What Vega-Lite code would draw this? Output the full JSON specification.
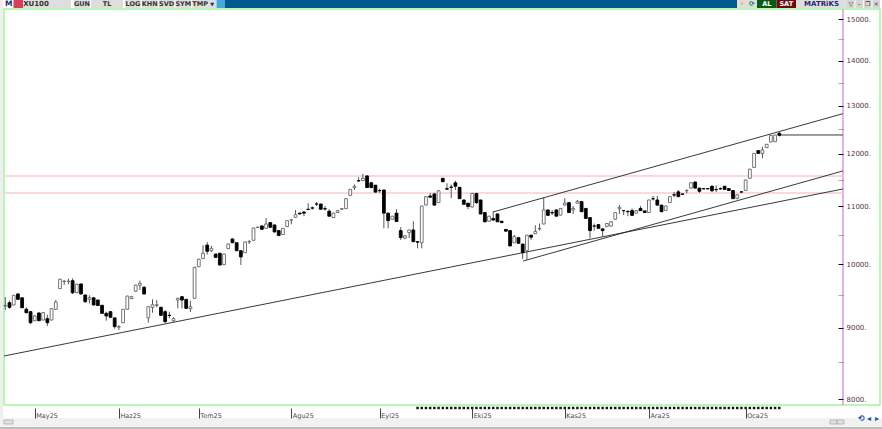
{
  "$schema": "https://vega.github.io/schema/vega-lite/v6.json",
  "width": 882,
  "height": 429,
  "padding": 0,
  "autosize": {"type": "none"},
  "background": "#ffffff",
  "config": {"view": {"stroke": null}},
  "datasets": {
    "candles": [
      {"bar":0,"open":9330,"high":9469,"low":9269,"close":9340},
      {"bar":1,"open":9381,"high":9412,"low":9289,"close":9310},
      {"bar":2,"open":9346,"high":9500,"low":9340,"close":9497},
      {"bar":3,"open":9518,"high":9530,"low":9430,"close":9434},
      {"bar":4,"open":9458,"high":9465,"low":9300,"close":9304},
      {"bar":5,"open":9280,"high":9310,"low":9218,"close":9228},
      {"bar":6,"open":9243,"high":9250,"low":9057,"close":9076},
      {"bar":7,"open":9106,"high":9190,"low":9100,"close":9178},
      {"bar":8,"open":9223,"high":9235,"low":9100,"close":9106},
      {"bar":9,"open":9117,"high":9240,"low":9110,"close":9228},
      {"bar":10,"open":9137,"high":9197,"low":9027,"close":9076},
      {"bar":11,"open":9117,"high":9295,"low":9110,"close":9289},
      {"bar":12,"open":9279,"high":9423,"low":9270,"close":9392},
      {"bar":13,"open":9602,"high":9760,"low":9595,"close":9752},
      {"bar":14,"open":9716,"high":9741,"low":9662,"close":9722},
      {"bar":15,"open":9716,"high":9762,"low":9672,"close":9722},
      {"bar":16,"open":9730,"high":9768,"low":9518,"close":9537},
      {"bar":17,"open":9540,"high":9680,"low":9530,"close":9672},
      {"bar":18,"open":9677,"high":9685,"low":9510,"close":9518},
      {"bar":19,"open":9502,"high":9510,"low":9381,"close":9397},
      {"bar":20,"open":9434,"high":9497,"low":9371,"close":9460},
      {"bar":21,"open":9458,"high":9465,"low":9340,"close":9346},
      {"bar":22,"open":9423,"high":9430,"low":9330,"close":9338},
      {"bar":23,"open":9341,"high":9350,"low":9210,"close":9218},
      {"bar":24,"open":9218,"high":9243,"low":9106,"close":9178},
      {"bar":25,"open":9243,"high":9250,"low":9150,"close":9158},
      {"bar":26,"open":9149,"high":9155,"low":8987,"close":9017},
      {"bar":27,"open":9010,"high":9042,"low":8967,"close":9015},
      {"bar":28,"open":9076,"high":9285,"low":9070,"close":9280},
      {"bar":29,"open":9280,"high":9490,"low":9275,"close":9485},
      {"bar":30,"open":9444,"high":9490,"low":9440,"close":9475},
      {"bar":31,"open":9561,"high":9665,"low":9555,"close":9657},
      {"bar":32,"open":9657,"high":9730,"low":9581,"close":9687},
      {"bar":33,"open":9624,"high":9645,"low":9510,"close":9518},
      {"bar":34,"open":9149,"high":9328,"low":9076,"close":9320},
      {"bar":35,"open":9310,"high":9434,"low":9228,"close":9350},
      {"bar":36,"open":9340,"high":9423,"low":9310,"close":9350},
      {"bar":37,"open":9310,"high":9320,"low":9180,"close":9188},
      {"bar":38,"open":9243,"high":9269,"low":9076,"close":9091},
      {"bar":39,"open":9188,"high":9243,"low":9143,"close":9185},
      {"bar":40,"open":9106,"high":9158,"low":9091,"close":9137},
      {"bar":41,"open":9423,"high":9460,"low":9295,"close":9450},
      {"bar":42,"open":9475,"high":9485,"low":9295,"close":9423},
      {"bar":43,"open":9434,"high":9440,"low":9290,"close":9295},
      {"bar":44,"open":9289,"high":9412,"low":9238,"close":9320},
      {"bar":45,"open":9450,"high":9955,"low":9445,"close":9947},
      {"bar":46,"open":9957,"high":10090,"low":9950,"close":10080},
      {"bar":47,"open":10090,"high":10320,"low":10085,"close":10181},
      {"bar":48,"open":10320,"high":10373,"low":10160,"close":10214},
      {"bar":49,"open":10224,"high":10305,"low":10200,"close":10264},
      {"bar":50,"open":10168,"high":10175,"low":10105,"close":10112},
      {"bar":51,"open":10180,"high":10190,"low":9970,"close":9986},
      {"bar":52,"open":9989,"high":10175,"low":9985,"close":10168},
      {"bar":53,"open":10260,"high":10345,"low":10255,"close":10340},
      {"bar":54,"open":10424,"high":10440,"low":10355,"close":10360},
      {"bar":55,"open":10360,"high":10365,"low":10220,"close":10224},
      {"bar":56,"open":10224,"high":10230,"low":9986,"close":10120},
      {"bar":57,"open":10190,"high":10380,"low":10185,"close":10373},
      {"bar":58,"open":10375,"high":10407,"low":10338,"close":10380},
      {"bar":59,"open":10402,"high":10620,"low":10395,"close":10616},
      {"bar":60,"open":10625,"high":10640,"low":10615,"close":10630},
      {"bar":61,"open":10652,"high":10660,"low":10585,"close":10593},
      {"bar":62,"open":10610,"high":10792,"low":10605,"close":10686},
      {"bar":63,"open":10710,"high":10720,"low":10620,"close":10628},
      {"bar":64,"open":10669,"high":10675,"low":10540,"close":10546},
      {"bar":65,"open":10570,"high":10575,"low":10470,"close":10485},
      {"bar":66,"open":10500,"high":10615,"low":10495,"close":10610},
      {"bar":67,"open":10640,"high":10750,"low":10635,"close":10745},
      {"bar":68,"open":10755,"high":10775,"low":10680,"close":10760},
      {"bar":69,"open":10805,"high":10937,"low":10800,"close":10852},
      {"bar":70,"open":10880,"high":10890,"low":10855,"close":10865},
      {"bar":71,"open":10900,"high":10915,"low":10825,"close":10880},
      {"bar":72,"open":10950,"high":11060,"low":10937,"close":10945},
      {"bar":73,"open":10975,"high":11000,"low":10945,"close":10970},
      {"bar":74,"open":11045,"high":11082,"low":11008,"close":11045},
      {"bar":75,"open":11045,"high":11050,"low":10945,"close":10950},
      {"bar":76,"open":10960,"high":11008,"low":10925,"close":10955},
      {"bar":77,"open":10915,"high":10950,"low":10820,"close":10825},
      {"bar":78,"open":10800,"high":10885,"low":10795,"close":10880},
      {"bar":79,"open":10890,"high":10930,"low":10885,"close":10925},
      {"bar":80,"open":10950,"high":10975,"low":10940,"close":10960},
      {"bar":81,"open":10960,"high":11150,"low":10955,"close":11143},
      {"bar":82,"open":11205,"high":11325,"low":11200,"close":11317},
      {"bar":83,"open":11350,"high":11410,"low":11304,"close":11375},
      {"bar":84,"open":11480,"high":11545,"low":11455,"close":11475},
      {"bar":85,"open":11480,"high":11610,"low":11475,"close":11525},
      {"bar":86,"open":11570,"high":11590,"low":11345,"close":11350},
      {"bar":87,"open":11440,"high":11460,"low":11340,"close":11350},
      {"bar":88,"open":11395,"high":11400,"low":11260,"close":11265},
      {"bar":89,"open":11295,"high":11330,"low":11250,"close":11290},
      {"bar":90,"open":11304,"high":11310,"low":10610,"close":10880},
      {"bar":91,"open":10880,"high":10885,"low":10610,"close":10745},
      {"bar":92,"open":10770,"high":10830,"low":10765,"close":10825},
      {"bar":93,"open":10880,"high":10950,"low":10725,"close":10730},
      {"bar":94,"open":10570,"high":10630,"low":10407,"close":10450},
      {"bar":95,"open":10440,"high":10485,"low":10418,"close":10480},
      {"bar":96,"open":10535,"high":10585,"low":10440,"close":10581},
      {"bar":97,"open":10581,"high":10735,"low":10372,"close":10378},
      {"bar":98,"open":10378,"high":10385,"low":10265,"close":10370},
      {"bar":99,"open":10360,"high":11015,"low":10265,"close":11008},
      {"bar":100,"open":11028,"high":11185,"low":11020,"close":11180},
      {"bar":101,"open":11193,"high":11245,"low":11165,"close":11170},
      {"bar":102,"open":11230,"high":11250,"low":11020,"close":11025},
      {"bar":103,"open":11070,"high":11295,"low":11065,"close":11290},
      {"bar":104,"open":11525,"high":11530,"low":11455,"close":11460},
      {"bar":105,"open":11330,"high":11430,"low":11304,"close":11320},
      {"bar":106,"open":11360,"high":11410,"low":11150,"close":11355},
      {"bar":107,"open":11440,"high":11480,"low":11304,"close":11375},
      {"bar":108,"open":11355,"high":11360,"low":11140,"close":11143},
      {"bar":109,"open":11119,"high":11125,"low":11035,"close":11040},
      {"bar":110,"open":11060,"high":11065,"low":10950,"close":11000},
      {"bar":111,"open":10990,"high":11250,"low":10985,"close":11240},
      {"bar":112,"open":11240,"high":11250,"low":11045,"close":11070},
      {"bar":113,"open":11119,"high":11125,"low":10860,"close":10865},
      {"bar":114,"open":10890,"high":10905,"low":10720,"close":10725},
      {"bar":115,"open":10735,"high":10830,"low":10730,"close":10825},
      {"bar":116,"open":10785,"high":10905,"low":10750,"close":10755},
      {"bar":117,"open":10865,"high":10870,"low":10720,"close":10725},
      {"bar":118,"open":10735,"high":10740,"low":10705,"close":10710},
      {"bar":119,"open":10590,"high":10600,"low":10550,"close":10560},
      {"bar":120,"open":10570,"high":10575,"low":10300,"close":10305},
      {"bar":121,"open":10360,"high":10495,"low":10355,"close":10465},
      {"bar":122,"open":10447,"high":10450,"low":10345,"close":10350},
      {"bar":123,"open":10338,"high":10340,"low":10085,"close":10190},
      {"bar":124,"open":10224,"high":10495,"low":10068,"close":10490},
      {"bar":125,"open":10490,"high":10495,"low":10407,"close":10455},
      {"bar":126,"open":10515,"high":10665,"low":10510,"close":10555},
      {"bar":127,"open":10600,"high":10695,"low":10570,"close":10610},
      {"bar":128,"open":10686,"high":11170,"low":10680,"close":10937},
      {"bar":129,"open":10937,"high":10945,"low":10835,"close":10840},
      {"bar":130,"open":10890,"high":10937,"low":10845,"close":10885},
      {"bar":131,"open":10937,"high":10945,"low":10820,"close":10825},
      {"bar":132,"open":10845,"high":10970,"low":10840,"close":10965},
      {"bar":133,"open":11025,"high":11150,"low":11020,"close":11060},
      {"bar":134,"open":11070,"high":11080,"low":10885,"close":10890},
      {"bar":135,"open":10937,"high":11008,"low":10865,"close":10965},
      {"bar":136,"open":11060,"high":11119,"low":11055,"close":11095},
      {"bar":137,"open":11090,"high":11095,"low":10900,"close":10905},
      {"bar":138,"open":10965,"high":10970,"low":10780,"close":10785},
      {"bar":139,"open":10800,"high":10805,"low":10435,"close":10570},
      {"bar":140,"open":10650,"high":10695,"low":10570,"close":10650},
      {"bar":141,"open":10675,"high":10680,"low":10605,"close":10610},
      {"bar":142,"open":10600,"high":10605,"low":10465,"close":10570},
      {"bar":143,"open":10640,"high":10700,"low":10635,"close":10695},
      {"bar":144,"open":10650,"high":10730,"low":10645,"close":10725},
      {"bar":145,"open":10770,"high":10895,"low":10765,"close":10890},
      {"bar":146,"open":10960,"high":11028,"low":10865,"close":10985},
      {"bar":147,"open":10925,"high":10935,"low":10845,"close":10925},
      {"bar":148,"open":10910,"high":10937,"low":10825,"close":10905},
      {"bar":149,"open":10925,"high":10965,"low":10835,"close":10840},
      {"bar":150,"open":10880,"high":10930,"low":10875,"close":10925},
      {"bar":151,"open":10965,"high":11008,"low":10920,"close":10925},
      {"bar":152,"open":10920,"high":10925,"low":10885,"close":10890},
      {"bar":153,"open":10890,"high":11125,"low":10885,"close":11119},
      {"bar":154,"open":11143,"high":11193,"low":11110,"close":11140},
      {"bar":155,"open":11119,"high":11193,"low":11020,"close":11025},
      {"bar":156,"open":11025,"high":11030,"low":10900,"close":10905},
      {"bar":157,"open":10930,"high":11015,"low":10925,"close":11008},
      {"bar":158,"open":11070,"high":11185,"low":11065,"close":11180},
      {"bar":159,"open":11215,"high":11270,"low":11170,"close":11210},
      {"bar":160,"open":11270,"high":11304,"low":11175,"close":11180},
      {"bar":161,"open":11230,"high":11240,"low":11220,"close":11225},
      {"bar":162,"open":11290,"high":11317,"low":11240,"close":11295},
      {"bar":163,"open":11340,"high":11445,"low":11335,"close":11440},
      {"bar":164,"open":11455,"high":11460,"low":11335,"close":11340},
      {"bar":165,"open":11340,"high":11345,"low":11250,"close":11280},
      {"bar":166,"open":11330,"high":11340,"low":11320,"close":11325},
      {"bar":167,"open":11330,"high":11340,"low":11320,"close":11325},
      {"bar":168,"open":11375,"high":11395,"low":11265,"close":11290},
      {"bar":169,"open":11315,"high":11390,"low":11265,"close":11310},
      {"bar":170,"open":11330,"high":11355,"low":11304,"close":11325},
      {"bar":171,"open":11375,"high":11380,"low":11310,"close":11315},
      {"bar":172,"open":11330,"high":11335,"low":11290,"close":11295},
      {"bar":173,"open":11295,"high":11300,"low":11140,"close":11143},
      {"bar":174,"open":11150,"high":11220,"low":11130,"close":11215},
      {"bar":175,"open":11270,"high":11280,"low":11255,"close":11265},
      {"bar":176,"open":11295,"high":11500,"low":11290,"close":11493},
      {"bar":177,"open":11525,"high":11705,"low":11520,"close":11700},
      {"bar":178,"open":11735,"high":12015,"low":11730,"close":12010},
      {"bar":179,"open":12065,"high":12070,"low":12005,"close":12010},
      {"bar":180,"open":12010,"high":12145,"low":11915,"close":12078},
      {"bar":181,"open":12124,"high":12195,"low":12120,"close":12192},
      {"bar":182,"open":12238,"high":12380,"low":12230,"close":12375},
      {"bar":183,"open":12245,"high":12385,"low":12240,"close":12380},
      {"bar":184,"open":12415,"high":12440,"low":12350,"close":12375}
    ],
    "levels": [
      {"line":"upper level","bar":-0.3,"price":11569},
      {"line":"upper level","bar":199.1,"price":11569},
      {"line":"lower level","bar":-0.3,"price":11249},
      {"line":"lower level","bar":199.1,"price":11249}
    ],
    "trends": [
      {"line":"support","bar":-0.3,"price":8590},
      {"line":"support","bar":199.1,"price":11323},
      {"line":"channel low","bar":123.1,"price":10051},
      {"line":"channel low","bar":199.1,"price":11666},
      {"line":"channel high","bar":115.9,"price":10900},
      {"line":"channel high","bar":199.1,"price":12825},
      {"line":"last close","bar":184,"price":12381},
      {"line":"last close","bar":199.1,"price":12381}
    ]
  },
  "resolve": {"scale": {"x": "independent", "y": "independent", "color": "independent"}, "axis": {"x": "independent", "y": "independent"}},
  "layer": [
    {
      "data": {"values": [{"part": "frame"}]},
      "encoding": {
        "x": {"datum": 0, "type": "quantitative", "axis": null, "scale": {"domain": [0, 882], "range": [0, 882], "nice": false, "zero": false}},
        "x2": {"datum": 3},
        "y": {"datum": 0, "type": "quantitative", "axis": null, "scale": {"domain": [0, 429], "range": [0, 429], "nice": false, "zero": false}},
        "y2": {"datum": 429}
      },
      "mark": {"type": "rect", "fill": "#eeeeee"}
    },
    {
      "data": {"values": [{"part": "frame"}]},
      "encoding": {
        "x": {"datum": 0, "type": "quantitative", "axis": null, "scale": {"domain": [0, 882], "range": [0, 882], "nice": false, "zero": false}},
        "x2": {"datum": 882},
        "y": {"datum": 418, "type": "quantitative", "axis": null, "scale": {"domain": [0, 429], "range": [0, 429], "nice": false, "zero": false}},
        "y2": {"datum": 427}
      },
      "mark": {"type": "rect", "fill": "#f1f1f1"}
    },
    {
      "data": {"values": [{"part": "frame"}]},
      "encoding": {
        "x": {"datum": 0, "type": "quantitative", "axis": null, "scale": {"domain": [0, 882], "range": [0, 882], "nice": false, "zero": false}},
        "x2": {"datum": 882},
        "y": {"datum": 427, "type": "quantitative", "axis": null, "scale": {"domain": [0, 429], "range": [0, 429], "nice": false, "zero": false}},
        "y2": {"datum": 429}
      },
      "mark": {"type": "rect", "fill": "#bdbdbd"}
    },
    {
      "data": {"values": [{"part": "frame"}]},
      "encoding": {
        "x": {"datum": 4, "type": "quantitative", "axis": null, "scale": {"domain": [0, 882], "range": [0, 882], "nice": false, "zero": false}},
        "x2": {"datum": 880},
        "y": {"datum": 9, "type": "quantitative", "axis": null, "scale": {"domain": [0, 429], "range": [0, 429], "nice": false, "zero": false}},
        "y2": {"datum": 405}
      },
      "mark": {"type": "rect", "fill": "transparent", "stroke": "#a0f5a0", "strokeWidth": 1.5}
    },
    {
      "data": {"values": [{"part": "axis line"}]},
      "encoding": {
        "x": {"datum": 843, "type": "quantitative", "axis": null, "scale": {"domain": [0, 882], "range": [0, 882], "nice": false, "zero": false}},
        "y": {"datum": 9, "type": "quantitative", "axis": null, "scale": {"domain": [0, 429], "range": [0, 429], "nice": false, "zero": false}},
        "y2": {"datum": 405}
      },
      "mark": {"type": "rule", "stroke": "#d9a3dc", "strokeWidth": 1.6}
    },
    {
      "data": {"name": "levels"},
      "mark": {"type": "line", "stroke": "#f8cccc", "strokeWidth": 1.6},
      "encoding": {
        "x": {"field": "bar", "type": "quantitative", "axis": null, "scale": {"domain": [0, 184], "range": [5.3, 779.3], "nice": false, "zero": false}},
        "y": {"field": "price", "type": "quantitative", "axis": null, "scale": {"type": "log", "domain": [8000, 15000], "range": [399, 19], "nice": false}},
        "detail": {"field": "line"}
      }
    },
    {
      "data": {"name": "trends"},
      "mark": {"type": "line", "stroke": "#222222", "strokeWidth": 0.9},
      "encoding": {
        "x": {"field": "bar", "type": "quantitative", "axis": null, "scale": {"domain": [0, 184], "range": [5.3, 779.3], "nice": false, "zero": false}},
        "y": {"field": "price", "type": "quantitative", "axis": null, "scale": {"type": "log", "domain": [8000, 15000], "range": [399, 19], "nice": false}},
        "detail": {"field": "line"}
      }
    },
    {
      "data": {"name": "candles"},
      "mark": {"type": "rule", "stroke": "#444444", "strokeWidth": 0.9},
      "encoding": {
        "x": {
          "field": "bar",
          "type": "quantitative",
          "scale": {"domain": [0, 184], "range": [5.3, 779.3], "nice": false, "zero": false},
          "axis": {
            "orient": "bottom",
            "offset": -21,
            "zindex": 1,
            "title": null,
            "grid": false,
            "domain": false,
            "values": [7, 27, 46, 68, 89, 111, 133, 153, 176],
            "labelExpr": "{'7':'May25','27':'Haz25','46':'Tem25','68':'Agu25','89':'Eyl25','111':'Eki25','133':'Kas25','153':'Ara25','176':'Oca25'}[datum.value]",
            "tickSize": 10,
            "tickColor": "#444444",
            "labelAlign": "left",
            "labelBaseline": "middle",
            "labelPadding": -3,
            "labelOffset": 1,
            "labelFont": "DejaVu Sans",
            "labelFontSize": 6.5,
            "labelColor": "#5a4050",
            "labelFlush": false,
            "labelOverlap": false,
            "labelBound": false
          }
        },
        "y": {
          "field": "high",
          "type": "quantitative",
          "scale": {"type": "log", "domain": [8000, 15000], "range": [399, 19], "nice": false},
          "axis": {
            "orient": "right",
            "offset": -39,
            "zindex": 1,
            "title": null,
            "grid": false,
            "domain": false,
            "values": [8000, 8500, 9000, 9500, 10000, 10500, 11000, 11500, 12000, 12500, 13000, 13500, 14000, 14500, 15000],
            "labelExpr": "datum.value % 1000 === 0 ? datum.value + '.' : ''",
            "tickSize": -5,
            "tickOpacity": {"condition": {"test": "datum.value % 1000 === 0", "value": 1}, "value": 0.35},
            "tickColor": "#111111",
            "labelPadding": 8,
            "labelFont": "DejaVu Sans",
            "labelFontSize": 7,
            "labelColor": "#5a3545",
            "labelFlush": false,
            "labelOverlap": false,
            "labelBound": false
          }
        },
        "y2": {"field": "low"}
      }
    },
    {
      "data": {"name": "candles"},
      "mark": {"type": "bar", "size": 2.8, "strokeWidth": 0.9},
      "encoding": {
        "x": {"field": "bar", "type": "quantitative", "axis": null, "scale": {"domain": [0, 184], "range": [5.3, 779.3], "nice": false, "zero": false, "padding": 0}},
        "y": {"field": "open", "type": "quantitative", "axis": null, "scale": {"type": "log", "domain": [8000, 15000], "range": [399, 19], "nice": false}},
        "y2": {"field": "close"},
        "color": {"condition": {"test": "datum.close > datum.open", "value": "#ffffff"}, "value": "#000000"},
        "stroke": {"condition": {"test": "datum.close > datum.open", "value": "#666666"}, "value": "#000000"}
      }
    },
    {
      "data": {"name": "candles"},
      "transform": [{"filter": "datum.bar >= 98"}],
      "mark": {"type": "square", "size": 6, "color": "#111111", "opacity": 1},
      "encoding": {
        "x": {"field": "bar", "type": "quantitative", "axis": null, "scale": {"domain": [0, 184], "range": [5.3, 779.3], "nice": false, "zero": false}},
        "y": {"datum": 7882, "type": "quantitative", "axis": null, "scale": {"type": "log", "domain": [8000, 15000], "range": [399, 19], "nice": false}}
      }
    },
    {
      "data": {"values": [{"item": "M"}, {"item": "flag"}]},
      "encoding": {
        "x": {"field": "item", "type": "nominal", "sort": null, "axis": null, "scale": {"type": "band", "range": [4, 23], "padding": 0}},
        "y": {"datum": "toolbar", "type": "nominal", "axis": null, "scale": {"type": "band", "range": [0, 8]}}
      },
      "layer": [
        {"mark": {"type": "rect"}, "encoding": {"color": {"field": "item", "type": "nominal", "legend": null, "scale": {"domain": ["M", "flag"], "range": ["#ffffff", "#d6405a"]}}}},
        {"transform": [{"filter": "datum.item === 'M'"}], "mark": {"type": "text", "font": "DejaVu Sans", "fontSize": 7.5, "fontWeight": "bold", "fill": "#1b2a6b"}, "encoding": {"text": {"field": "item"}}}
      ]
    },
    {
      "data": {"values": [{"item": "XU100"}]},
      "encoding": {
        "x": {"field": "item", "type": "nominal", "axis": null, "scale": {"type": "band", "range": [23, 71]}},
        "y": {"datum": "toolbar", "type": "nominal", "axis": null, "scale": {"type": "band", "range": [0, 8]}}
      },
      "layer": [
        {"mark": {"type": "rect", "fill": "#dedede"}},
        {"mark": {"type": "text", "font": "DejaVu Sans", "fontSize": 7, "fontWeight": "bold", "fill": "#333333", "dx": -11}, "encoding": {"text": {"field": "item"}}}
      ]
    },
    {
      "data": {"values": [{"item": "GUN"}]},
      "encoding": {
        "x": {"field": "item", "type": "nominal", "axis": null, "scale": {"type": "band", "range": [74, 90]}},
        "y": {"datum": "toolbar", "type": "nominal", "axis": null, "scale": {"type": "band", "range": [0, 8]}}
      },
      "layer": [
        {"mark": {"type": "rect", "fill": "#dedede"}},
        {"mark": {"type": "text", "font": "DejaVu Sans", "fontSize": 6.5, "fontWeight": "bold", "fill": "#333333"}, "encoding": {"text": {"field": "item"}}}
      ]
    },
    {
      "data": {"values": [{"item": "TL"}]},
      "encoding": {
        "x": {"field": "item", "type": "nominal", "axis": null, "scale": {"type": "band", "range": [91, 123]}},
        "y": {"datum": "toolbar", "type": "nominal", "axis": null, "scale": {"type": "band", "range": [0, 8]}}
      },
      "layer": [
        {"mark": {"type": "rect", "fill": "#dedede"}},
        {"mark": {"type": "text", "font": "DejaVu Sans", "fontSize": 6.5, "fontWeight": "bold", "fill": "#333333"}, "encoding": {"text": {"field": "item"}}}
      ]
    },
    {
      "data": {"values": [{"item": "LOG"}, {"item": "KHN"}, {"item": "SVD"}, {"item": "SYM"}, {"item": "TMP"}]},
      "encoding": {
        "x": {"field": "item", "type": "nominal", "sort": null, "axis": null, "scale": {"type": "band", "range": [125, 208], "paddingInner": 0.06, "paddingOuter": 0}},
        "y": {"datum": "toolbar", "type": "nominal", "axis": null, "scale": {"type": "band", "range": [0, 8]}}
      },
      "layer": [
        {"mark": {"type": "rect", "fill": "#dedede"}},
        {"mark": {"type": "text", "font": "DejaVu Sans", "fontSize": 6.5, "fontWeight": "bold", "fill": "#333333"}, "encoding": {"text": {"field": "item"}}}
      ]
    },
    {
      "data": {"values": [{"item": "▼"}, {"item": "bird"}]},
      "encoding": {
        "x": {"field": "item", "type": "nominal", "sort": null, "axis": null, "scale": {"type": "band", "range": [208, 225], "padding": 0}},
        "y": {"datum": "toolbar", "type": "nominal", "axis": null, "scale": {"type": "band", "range": [0, 8]}}
      },
      "layer": [
        {"mark": {"type": "rect"}, "encoding": {"color": {"field": "item", "type": "nominal", "legend": null, "scale": {"domain": ["▼", "bird"], "range": ["#dedede", "#45a8dd"]}}}},
        {"transform": [{"filter": "datum.item === '▼'"}], "mark": {"type": "text", "font": "DejaVu Sans", "fontSize": 5, "fill": "#1b2a6b"}, "encoding": {"text": {"field": "item"}}}
      ]
    },
    {
      "data": {"values": [{"item": "title bar"}]},
      "encoding": {
        "x": {"field": "item", "type": "nominal", "axis": null, "scale": {"type": "band", "range": [225, 737]}},
        "y": {"datum": "toolbar", "type": "nominal", "axis": null, "scale": {"type": "band", "range": [0, 8]}}
      },
      "mark": {"type": "rect", "fill": "#005a8c"}
    },
    {
      "data": {"values": [{"item": "⚡"}, {"item": "⟳"}]},
      "encoding": {
        "x": {"field": "item", "type": "nominal", "sort": null, "axis": null, "scale": {"type": "band", "range": [737, 757], "padding": 0}},
        "y": {"datum": "toolbar", "type": "nominal", "axis": null, "scale": {"type": "band", "range": [0, 8]}}
      },
      "layer": [
        {"mark": {"type": "rect", "fill": "#dedede"}},
        {"mark": {"type": "text", "font": "DejaVu Sans", "fontSize": 7, "fontWeight": "bold"}, "encoding": {"text": {"field": "item"}, "color": {"field": "item", "type": "nominal", "legend": null, "scale": {"domain": ["⚡", "⟳"], "range": ["#f0a020", "#108060"]}}}}
      ]
    },
    {
      "data": {"values": [{"item": "AL"}, {"item": "SAT"}]},
      "encoding": {
        "x": {"field": "item", "type": "nominal", "sort": null, "axis": null, "scale": {"type": "band", "range": [757, 796], "padding": 0}},
        "y": {"datum": "toolbar", "type": "nominal", "axis": null, "scale": {"type": "band", "range": [0, 8]}}
      },
      "layer": [
        {"mark": {"type": "rect"}, "encoding": {"color": {"field": "item", "type": "nominal", "legend": null, "scale": {"domain": ["AL", "SAT"], "range": ["#0b5a12", "#6c0a0e"]}}}},
        {"mark": {"type": "text", "font": "DejaVu Sans", "fontSize": 6.5, "fontWeight": "bold", "fill": "#ffffff"}, "encoding": {"text": {"field": "item"}}}
      ]
    },
    {
      "data": {"values": [{"item": "MATRiKS"}]},
      "encoding": {
        "x": {"field": "item", "type": "nominal", "axis": null, "scale": {"type": "band", "range": [796, 847]}},
        "y": {"datum": "toolbar", "type": "nominal", "axis": null, "scale": {"type": "band", "range": [0, 8]}}
      },
      "layer": [
        {"mark": {"type": "rect", "fill": "#dedede"}},
        {"mark": {"type": "text", "font": "DejaVu Sans", "fontSize": 7, "fontWeight": "bold", "fill": "#2a2a70"}, "encoding": {"text": {"field": "item"}}}
      ]
    },
    {
      "data": {"values": [{"item": "▽"}, {"item": "–"}, {"item": "❐"}, {"item": "×"}]},
      "encoding": {
        "x": {"field": "item", "type": "nominal", "sort": null, "axis": null, "scale": {"type": "band", "range": [847, 880], "paddingInner": 0.1, "paddingOuter": 0}},
        "y": {"datum": "toolbar", "type": "nominal", "axis": null, "scale": {"type": "band", "range": [0, 8]}}
      },
      "layer": [
        {"mark": {"type": "rect", "fill": "#d6d6d6"}},
        {"mark": {"type": "text", "font": "DejaVu Sans", "fontSize": 6, "fill": "#333333"}, "encoding": {"text": {"field": "item"}}}
      ]
    },
    {
      "data": {"values": [{"item": "scroll left"}]},
      "encoding": {
        "x": {"field": "item", "type": "nominal", "axis": null, "scale": {"type": "band", "range": [4, 13]}},
        "y": {"datum": "scrollbar", "type": "nominal", "axis": null, "scale": {"type": "band", "range": [420, 424]}}
      },
      "mark": {"type": "rect", "fill": "#e2e2e2", "stroke": "#999999", "strokeWidth": 0.6}
    },
    {
      "data": {"values": [{"item": "scroll a"}, {"item": "scroll b"}]},
      "encoding": {
        "x": {"field": "item", "type": "nominal", "sort": null, "axis": null, "scale": {"type": "band", "range": [830, 844], "padding": 0}},
        "y": {"datum": "scrollbar", "type": "nominal", "axis": null, "scale": {"type": "band", "range": [420, 424]}}
      },
      "mark": {"type": "rect", "fill": "#e2e2e2", "stroke": "#999999", "strokeWidth": 0.6}
    },
    {
      "data": {"values": [{"item": "⟲"}, {"item": "◂"}, {"item": "▸"}]},
      "encoding": {
        "x": {"field": "item", "type": "nominal", "sort": null, "axis": null, "scale": {"type": "band", "range": [857, 881], "padding": 0}},
        "y": {"datum": "nav", "type": "nominal", "axis": null, "scale": {"type": "band", "range": [413, 424]}},
        "text": {"field": "item"}
      },
      "mark": {"type": "text", "font": "DejaVu Sans", "fontSize": 8, "fontWeight": "bold", "fill": "#1a4fa0"}
    }
  ]
}
